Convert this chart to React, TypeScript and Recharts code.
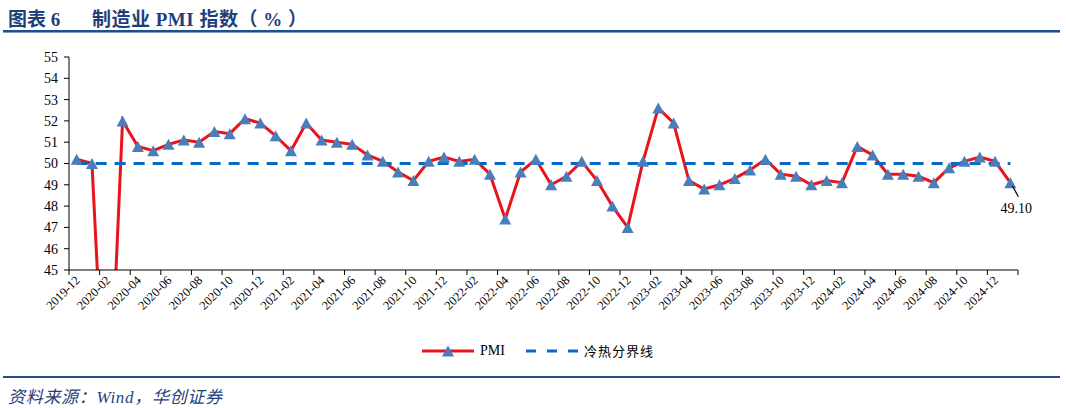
import React from "react";
import { LineChart, Line, XAxis, YAxis, LabelList } from "recharts";

const months = [
  "2019-12",
  "2020-01", "2020-02", "2020-03", "2020-04", "2020-05", "2020-06", "2020-07", "2020-08", "2020-09", "2020-10", "2020-11", "2020-12",
  "2021-01", "2021-02", "2021-03", "2021-04", "2021-05", "2021-06", "2021-07", "2021-08", "2021-09", "2021-10", "2021-11", "2021-12",
  "2022-01", "2022-02", "2022-03", "2022-04", "2022-05", "2022-06", "2022-07", "2022-08", "2022-09", "2022-10", "2022-11", "2022-12",
  "2023-01", "2023-02", "2023-03", "2023-04", "2023-05", "2023-06", "2023-07", "2023-08", "2023-09", "2023-10", "2023-11", "2023-12",
  "2024-01", "2024-02", "2024-03", "2024-04", "2024-05", "2024-06", "2024-07", "2024-08", "2024-09", "2024-10", "2024-11", "2024-12",
  "2025-01",
];

const pmiValues = [
  50.2,
  50.0, 35.7, 52.0, 50.8, 50.6, 50.9, 51.1, 51.0, 51.5, 51.4, 52.1, 51.9,
  51.3, 50.6, 51.9, 51.1, 51.0, 50.9, 50.4, 50.1, 49.6, 49.2, 50.1, 50.3,
  50.1, 50.2, 49.5, 47.4, 49.6, 50.2, 49.0, 49.4, 50.1, 49.2, 48.0, 47.0,
  50.1, 52.6, 51.9, 49.2, 48.8, 49.0, 49.3, 49.7, 50.2, 49.5, 49.4, 49.0,
  49.2, 49.1, 50.8, 50.4, 49.5, 49.5, 49.4, 49.1, 49.8, 50.1, 50.3, 50.1,
  49.1,
];

const boundaryValue = 50;
const yTicks = [45, 46, 47, 48, 49, 50, 51, 52, 53, 54, 55];
const seriesNames = { pmi: "PMI", boundary: "冷热分界线" };
const figureLabel = "图表 6";
const titleText = "制造业 PMI 指数（ % ）";
const sourceText = "资料来源：Wind，华创证券";

const data = months.map((m, i) => ({ month: m, pmi: pmiValues[i], boundary: boundaryValue }));

const CHART_W = 1066;
const CHART_H = 408;
const M_LEFT = 9;
const Y_W = 60;
const M_RIGHT = 48;
const PLOT_W = CHART_W - M_LEFT - Y_W - M_RIGHT;
const BAND = PLOT_W / months.length;

const SERIF = '"Liberation Serif", "Times New Roman", "Noto Sans CJK SC", serif';
const CJK = '"Liberation Serif", "Noto Sans CJK SC", serif';
const NAVY = "#1F3F7A";
const RED = "#E8141C";
const TRI = "#4A7EBB";
const DASH = "#0868C8";

const XTick = (props: any) => {
  const { x, y, payload } = props;
  const lx = x - BAND / 2;
  const isLast = payload.value === months[months.length - 2];
  return (
    <g>
      <line x1={lx} y1={y - 5} x2={lx} y2={y} stroke="#000" strokeWidth={1} />
      {isLast && (
        <line x1={x + BAND * 1.5} y1={y - 5} x2={x + BAND * 1.5} y2={y} stroke="#000" strokeWidth={1} />
      )}
      <text
        x={x + 4}
        y={y + 6}
        transform={`rotate(-45 ${x + 4} ${y + 6})`}
        textAnchor="end"
        fontSize={12.5}
        fontFamily={SERIF}
        fill="#000"
      >
        {payload.value}
      </text>
    </g>
  );
};

const TriangleDot = (props: any) => {
  const { cx, cy, value } = props;
  if (cx == null || cy == null || value < 45) return null;
  const hw = 6;
  const h = 11;
  return (
    <path
      d={`M${cx},${cy - h / 2} L${cx + hw},${cy + h / 2} L${cx - hw},${cy + h / 2} Z`}
      fill={TRI}
      stroke="none"
    />
  );
};

const LastLabel = (props: any) => {
  const { x, y, index, value } = props;
  if (index !== pmiValues.length - 1) return null;
  return (
    <g>
      <line x1={x + 2} y1={y + 3} x2={x + 8} y2={y + 14} stroke="#000" strokeWidth={1.2} />
      <text x={x + 6} y={y + 30} textAnchor="middle" fontSize={14} fontFamily={SERIF} fill="#000">
        {Number(value).toFixed(2)}
      </text>
    </g>
  );
};

export default function App() {
  return (
    <div style={{ position: "relative", width: CHART_W, height: CHART_H, background: "#fff", overflow: "hidden" }}>
      <style>{`body{margin:0;}`}</style>
      <div
        style={{
          position: "absolute",
          left: 8,
          top: 4,
          fontFamily: CJK,
          fontWeight: 700,
          fontSize: 19,
          color: NAVY,
          whiteSpace: "pre",
        }}
      >
        {figureLabel}
      </div>
      <div
        style={{
          position: "absolute",
          left: 92,
          top: 4,
          fontFamily: CJK,
          fontWeight: 700,
          fontSize: 19,
          color: NAVY,
          whiteSpace: "pre",
          letterSpacing: 0.5,
        }}
      >
        {titleText}
      </div>
      <div style={{ position: "absolute", left: 3, top: 30, width: 1057, height: 2, background: "#1F4E8C" }} />
      <div style={{ position: "absolute", left: 3, top: 32, width: 1057, height: 1, background: "#7F9CC8" }} />

      <div style={{ position: "absolute", left: 0, top: 0 }}>
        <LineChart
          width={CHART_W}
          height={CHART_H}
          data={data}
          margin={{ top: 57, right: M_RIGHT, bottom: 78, left: M_LEFT }}
        >
          <XAxis
            dataKey="month"
            interval={1}
            height={60}
            padding={{ left: BAND / 2, right: BAND / 2 }}
            tickLine={false}
            tickSize={5}
            tickMargin={0}
            axisLine={{ stroke: "#000", strokeWidth: 1 }}
            tick={<XTick />}
          />
          <YAxis
            width={Y_W}
            domain={[45, 55]}
            ticks={yTicks}
            allowDataOverflow
            interval={0}
            tickSize={5}
            tickMargin={6}
            axisLine={{ stroke: "#000", strokeWidth: 1 }}
            tickLine={{ stroke: "#000" }}
            tick={{ fontSize: 14, fontFamily: SERIF, fill: "#000" }}
          />
          <Line
            dataKey="pmi"
            name={seriesNames.pmi}
            stroke={RED}
            strokeWidth={3}
            dot={<TriangleDot />}
            activeDot={false}
            isAnimationActive={false}
          >
            <LabelList dataKey="pmi" content={<LastLabel />} />
          </Line>
          <Line
            dataKey="boundary"
            name={seriesNames.boundary}
            stroke={DASH}
            strokeWidth={3}
            strokeDasharray="11 8"
            dot={false}
            activeDot={false}
            isAnimationActive={false}
          />
        </LineChart>
      </div>

      <div
        style={{
          position: "absolute",
          left: 422,
          top: 341,
          display: "flex",
          alignItems: "center",
          fontFamily: SERIF,
          fontSize: 14,
          color: "#000",
        }}
      >
        <svg width={52} height={14}>
          <line x1={0} y1={7} x2={52} y2={7} stroke={RED} strokeWidth={3} />
          <path d="M26,1.5 L32,12.5 L20,12.5 Z" fill={TRI} />
        </svg>
        <span style={{ marginLeft: 6 }}>{seriesNames.pmi}</span>
        <svg width={52} height={14} style={{ marginLeft: 21 }}>
          <line x1={0} y1={7} x2={52} y2={7} stroke={DASH} strokeWidth={3} strokeDasharray="10 11" />
        </svg>
        <span style={{ marginLeft: 6, fontFamily: CJK, fontSize: 13, letterSpacing: 1 }}>{seriesNames.boundary}</span>
      </div>

      <div style={{ position: "absolute", left: 3, top: 376, width: 1057, height: 2, background: "#1F4E8C" }} />
      <div
        style={{
          position: "absolute",
          left: 8,
          top: 383,
          fontFamily: CJK,
          fontStyle: "italic",
          fontSize: 17,
          letterSpacing: 0.7,
          color: NAVY,
          whiteSpace: "pre",
        }}
      >
        {sourceText}
      </div>
    </div>
  );
}
